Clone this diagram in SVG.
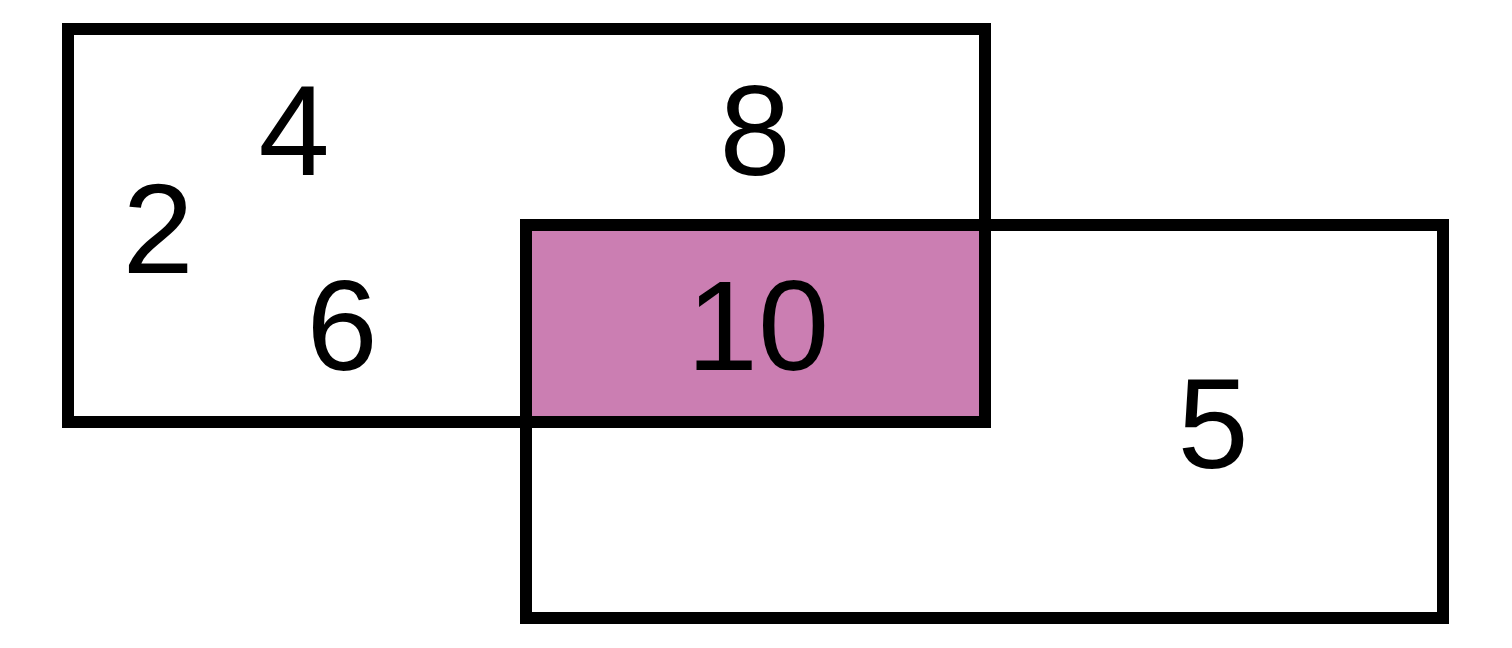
<svg xmlns="http://www.w3.org/2000/svg" width="1512" height="648" viewBox="0 0 1512 648">
<style>
.box{fill:none;stroke:#000;stroke-width:12}
.num{font-family:"Liberation Sans",Arial,sans-serif;font-size:128px;fill:#000;text-anchor:middle}
</style>
<rect width="1512" height="648" fill="#fff"/>
<g id="overlap"><rect x="526" y="225" width="459" height="197" fill="#CB7EB2"/></g>
<g id="setA"><rect class="box" x="68" y="29" width="917" height="393"/></g>
<g id="setB"><rect class="box" x="526" y="225" width="917" height="393"/></g>
<g id="labels">
<text class="num" x="158" y="273">2</text>
<text class="num" x="294" y="175">4</text>
<text class="num" x="342" y="370">6</text>
<text class="num" x="755" y="175">8</text>
<text class="num" x="758" y="370">10</text>
<text class="num" x="1213" y="468">5</text>
</g>
</svg>
